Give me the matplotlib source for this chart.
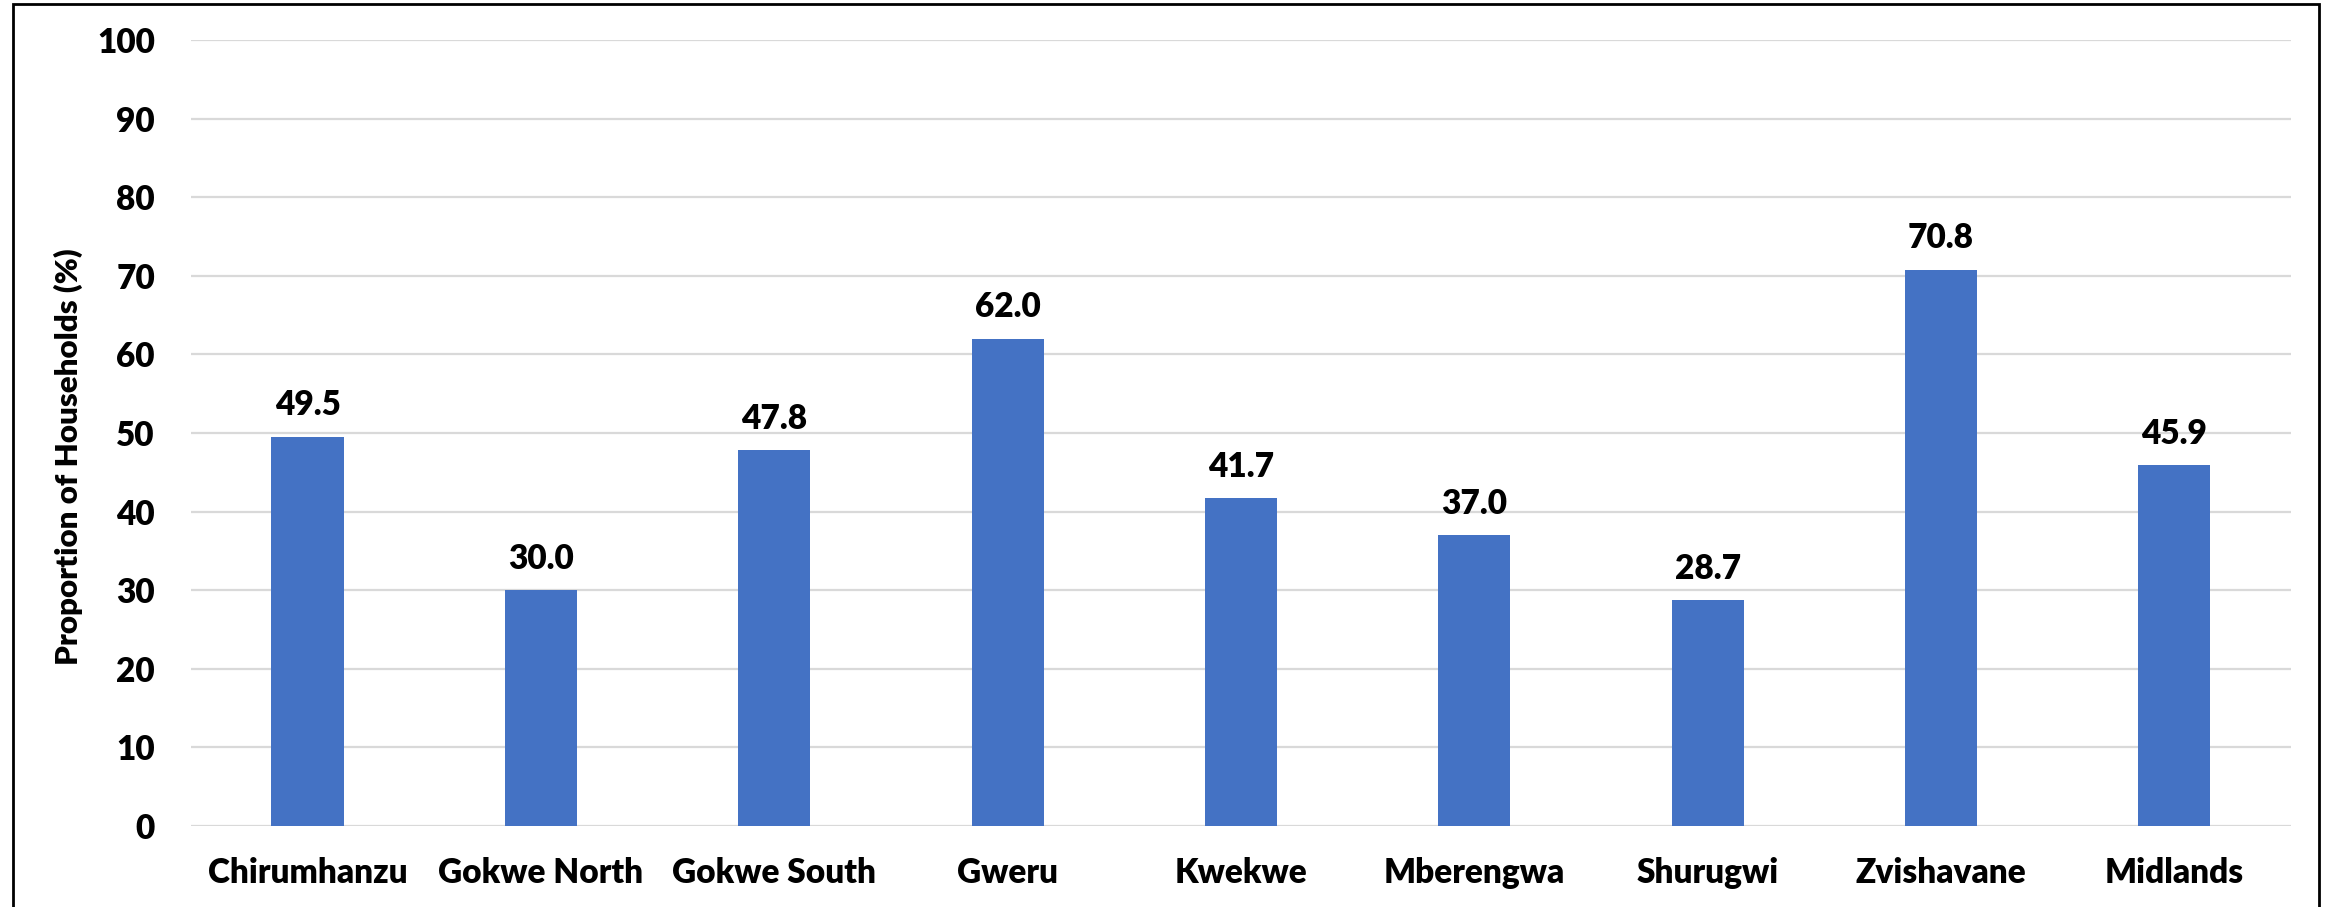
import matplotlib
matplotlib.use("Agg")
import matplotlib.pyplot as plt
from matplotlib.patches import Rectangle
import numpy as np

districts = ["Chirumhanzu", "Gokwe North", "Gokwe South", "Gweru", "Kwekwe",
             "Mberengwa", "Shurugwi", "Zvishavane", "Midlands"]
share = [49.5, 30.0, 47.8, 62.0, 41.7, 37.0, 28.7, 70.8, 45.9]
yticks = list(range(0, 101, 10))

plt.rcParams['font.family'] = ['Lato', 'DejaVu Sans']
WEIGHT = 'heavy'
FS = 24

W, H = 2325, 907
fig = plt.figure(figsize=(W / 100, H / 100), dpi=100)
ax = fig.add_axes([191 / W, 1 - 826 / H, (2291 - 191) / W, (826 - 40) / H])

x = np.arange(len(districts))
ax.bar(x, share, width=0.31, color="#4472C4", zorder=3)

for xi, v in zip(x, share):
    ax.annotate("%.1f" % v, (xi, v), xytext=(0, 15.5), textcoords="offset points",
                ha="center", va="baseline", fontsize=FS, fontweight=WEIGHT,
                color="#000000")

ax.set_xlim(-0.5, len(districts) - 0.5)
ax.set_ylim(0, 100)
ax.set_yticks(yticks)
ax.set_yticklabels([str(t) for t in yticks])
ax.set_xticks(x)
ax.set_xticklabels(districts)
ax.tick_params(axis="both", length=0, labelsize=FS, colors="#000000")
ax.tick_params(axis="y", pad=26)
ax.tick_params(axis="x", pad=22)
for lab in ax.get_xticklabels() + ax.get_yticklabels():
    lab.set_fontweight(WEIGHT)

ax.grid(axis="y", color="#D9D9D9", linewidth=1.6, zorder=0)
ax.set_axisbelow(True)
for s in ax.spines.values():
    s.set_visible(False)

fig.text(68 / W, 1 - 457 / H, "Proportion of Households (%)", rotation=90,
         ha="center", va="center", fontsize=22.5, fontweight=WEIGHT)

# outer frame, open at the bottom edge
fig.patches.append(Rectangle((13 / W, -0.05), (2319 - 13) / W, 1.05 - 4 / H,
                             transform=fig.transFigure, fill=False,
                             edgecolor="#000000", linewidth=2.0))

fig.savefig("out.png", dpi=100, facecolor="white")
